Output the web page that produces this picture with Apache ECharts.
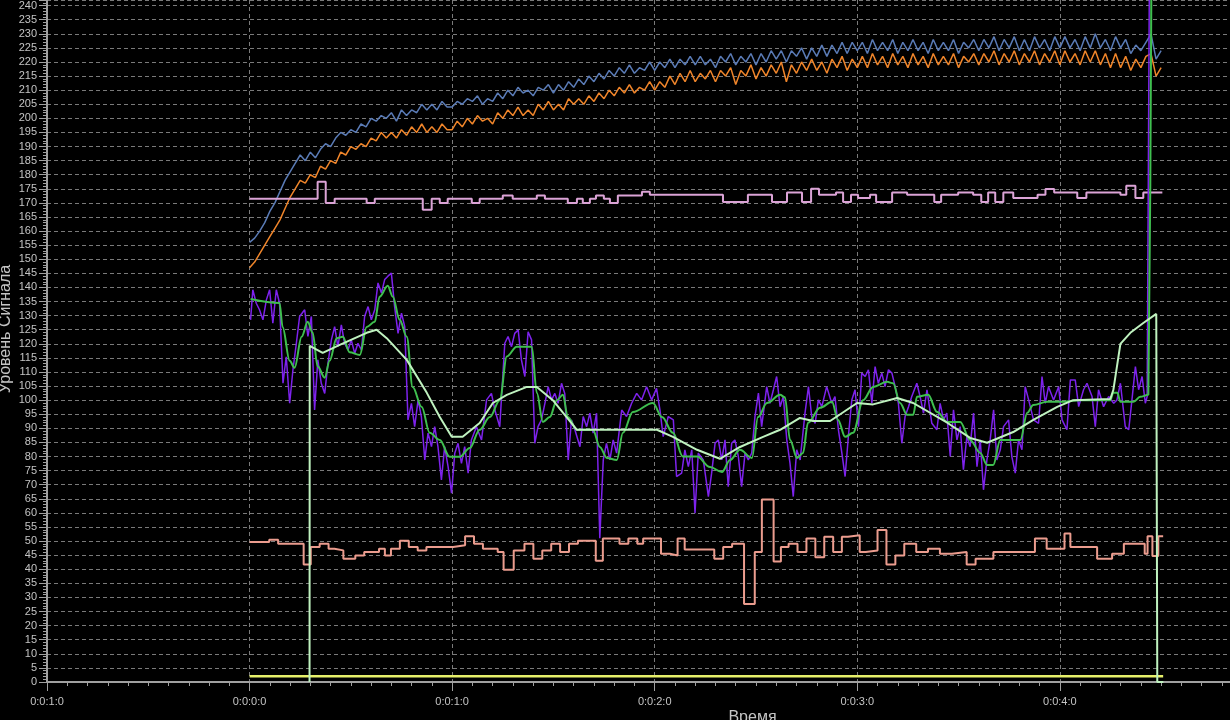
<!DOCTYPE html>
<html><head><meta charset="utf-8">
<script src="https://cdn.jsdelivr.net/npm/echarts/dist/echarts.min.js"></script>
<style>html,body{margin:0;padding:0;background:#000;}#c{width:1230px;height:720px;}</style>
</head><body><div id="c"></div><script>
// X axis ticks (time) and labels
const xTickValues = [-10, 0, 10, 20, 30, 40];
const xTickLabels = ['0:0:1:0', '0:0:0:0', '0:0:1:0', '0:0:2:0', '0:0:3:0', '0:0:4:0'];
const xAxisName = 'Время';
const yAxisName = 'Уровень Сигнала';

// Blue and orange signals sampled every 0.25 time units from 0
const sampleStep = 0.25;
const blueValues = [
156,157.5,160,163,167,170,174,178,181,184,
187,185,188,186,189,191,190,193,195,194,
196,195,198,197,200,199,201,200,202,199,
203,201,203,202,205,203,205,203,206,204,
204,206,205,207,206,208,205,207,206,209,
207,210,208,211,209,210,208,211,210,212,
209,212,210,213,211,214,212,215,213,216,
214,217,215,218,216,219,216,218,217,220,
217,220,218,221,218,221,219,222,219,222,
219,221,218,222,220,223,219,222,220,223,
219,223,220,224,221,224,220,224,222,225,
221,225,222,226,222,226,223,227,223,227,
224,227,223,228,224,227,224,228,223,227,
224,228,224,227,223,228,224,227,224,228,
223,227,225,228,224,228,225,229,224,228,
225,229,224,228,224,229,225,228,224,229,
225,229,225,228,224,229,225,230,225,228,
224,229,225,228,223,226,224,227,230,221,224];
const orangeValues = [
147,149,152,155,158,161,164,168,172,175,
178,177,180,179,183,182,185,184,188,187,
190,189,191,190,193,192,195,193,195,193,
196,194,197,195,198,195,197,195,198,196,
196,199,197,200,198,201,199,200,198,202,
200,203,201,204,201,203,201,205,203,206,
203,205,203,207,205,207,205,208,206,209,
207,210,208,211,209,212,209,211,210,213,
210,213,211,215,212,216,213,217,213,216,
214,217,213,217,215,218,212,217,215,219,
214,218,215,219,216,220,213,219,216,220,
217,221,217,220,216,221,218,222,217,221,
218,222,218,223,219,222,218,223,219,222,
218,223,219,222,218,223,219,222,219,223,
218,222,220,223,219,223,220,224,219,223,
220,224,219,223,220,224,219,223,220,224,
219,224,220,223,219,224,220,224,219,223,
218,223,218,222,217,221,218,222,223,215,218];

// Step signals: [time where level starts, level]
const pinkSteps = [[0,171.5],[3.36,177.5],[3.76,170],[4.20,171.5],[5.78,170],[6.18,171.5],[8.55,167.6],[8.99,171.5],[9.39,170],[9.78,171.5],[10.97,170],[11.36,171.5],[12.50,172.6],[12.99,171.5],[14.18,172.6],[14.58,171.5],[15.71,170],[16.16,171.5],[16.45,170],[16.80,171.5],[17.10,172.6],[17.49,171.5],[17.79,170],[18.18,172.6],[19.37,174],[19.76,172.9],[23.37,170.3],[24.60,172.9],[25.79,170.3],[26.53,173.7],[27.27,170.3],[27.72,175],[28.11,172.9],[28.95,173.7],[29.30,170.3],[29.69,172.9],[30.04,171.7],[30.63,172.9],[30.93,170.3],[31.72,173.7],[32.46,172.9],[33.80,170.3],[34.14,172.9],[34.98,173.7],[35.72,172.9],[36.12,170.3],[36.46,173.7],[36.81,170.3],[37.21,173.7],[37.70,171.7],[38.90,172.9],[39.29,174.9],[39.72,173.7],[40.86,171.7],[41.31,173.7],[42.99,172.9],[43.28,176.1],[43.73,171.7],[44.12,173.7],[45.06,173.7]];
const salmonSteps = [[0,49.7],[0.97,50.5],[1.41,49.1],[2.67,41.7],[3.02,47.9],[3.46,49.1],[3.90,47.3],[4.19,46.7],[4.63,43.7],[5.22,44.9],[5.66,46.1],[6.39,47.3],[6.68,44.9],[6.98,47.3],[7.42,50.1],[7.86,47.9],[8.30,46.7],[8.73,47.9],[10.05,48.5],[10.64,51.7],[11.08,49.1],[11.52,47.3],[12.25,46.1],[12.54,39.8],[13.04,46.7],[13.57,49.1],[14.01,43.7],[14.45,46.7],[14.89,49.1],[15.33,46.1],[15.77,49.1],[16.21,50.1],[17.09,43.0],[17.44,50.9],[18.26,49.1],[18.70,50.9],[19.14,49.1],[19.43,50.9],[20.31,45.5],[20.75,44.9],[21.13,50.9],[21.48,47.0],[22.94,43.7],[23.38,47.9],[23.82,49.1],[24.41,27.7],[24.94,46.1],[25.29,64.8],[25.87,42.8],[26.23,47.9],[26.61,49.1],[27.05,46.1],[27.49,50.9],[27.93,44.3],[28.37,51.5],[28.81,46.1],[29.24,51.5],[29.54,52.1],[30.12,46.1],[30.42,46.7],[31.00,53.9],[31.44,41.7],[31.88,44.9],[32.32,49.1],[32.91,46.1],[33.49,47.3],[34.08,45.5],[34.67,46.1],[35.40,41.7],[35.84,43.7],[36.72,46.1],[38.77,50.9],[39.35,47.3],[40.23,52.7],[40.52,47.9],[41.84,43.7],[42.58,45.5],[43.16,49.1],[44.19,45.5],[44.33,51.7],[44.57,44.7],[44.86,51.7],[45.1,51.7]];
const yellowLine = [[0,2],[45.1,2]];

// Purple raw signal: [time, level]
const purplePoints = [[0.05,128.5],[0.16,139.2],[0.33,134.4],[0.49,132.1],[0.66,128.5],[0.83,135.6],[0.99,139.2],[1.15,127.3],[1.32,139.2],[1.48,134.4],[1.65,106.0],[1.81,115.4],[1.98,98.9],[2.14,110.7],[2.31,120.2],[2.47,129.7],[2.72,132.1],[2.88,122.6],[3.05,129.7],[3.21,96.5],[3.37,114.3],[3.54,106.0],[3.71,102.4],[3.87,113.1],[4.04,121.4],[4.20,126.1],[4.36,119.0],[4.53,126.7],[4.69,120.2],[4.86,117.8],[5.02,121.4],[5.19,116.6],[5.35,120.2],[5.52,117.8],[5.68,129.7],[5.85,133.2],[6.01,128.5],[6.18,132.1],[6.34,141.6],[6.51,138.0],[6.67,142.8],[6.83,144.0],[7.00,145.1],[7.16,133.2],[7.33,123.7],[7.50,130.9],[7.66,126.1],[7.82,93.0],[7.99,98.9],[8.15,90.6],[8.32,100.1],[8.48,94.2],[8.65,78.8],[8.81,88.3],[8.98,83.5],[9.14,90.6],[9.30,83.5],[9.47,71.7],[9.63,83.5],[9.80,76.4],[9.97,67.0],[10.13,81.2],[10.29,84.7],[10.46,77.6],[10.62,83.5],[10.79,74.1],[10.95,85.9],[11.20,90.6],[11.45,85.9],[11.70,100.1],[11.94,102.4],[12.11,96.5],[12.35,90.6],[12.60,120.2],[12.76,122.6],[12.93,119.0],[13.09,123.7],[13.26,124.9],[13.42,114.3],[13.59,108.4],[13.75,124.3],[13.92,121.4],[14.08,84.7],[14.24,90.6],[14.41,93.0],[14.58,98.9],[14.74,104.8],[14.91,100.1],[15.07,102.4],[15.23,98.9],[15.40,106.0],[15.56,102.4],[15.73,78.8],[15.89,93.0],[16.06,89.5],[16.31,83.5],[16.47,94.2],[16.64,90.6],[16.80,95.4],[16.96,88.3],[17.13,95.4],[17.29,51.0],[17.46,78.8],[17.62,84.7],[17.79,78.8],[17.95,85.9],[18.12,81.2],[18.37,96.5],[18.61,94.2],[18.86,98.9],[19.11,102.4],[19.35,100.1],[19.60,104.8],[19.85,100.1],[20.09,104.2],[20.26,96.5],[20.42,87.1],[20.67,94.2],[20.92,93.0],[21.08,72.9],[21.33,74.1],[21.49,82.4],[21.66,76.4],[21.83,82.4],[21.99,59.9],[22.15,81.2],[22.40,78.8],[22.65,65.8],[22.81,74.1],[22.98,84.7],[23.14,85.9],[23.31,78.8],[23.47,85.9],[23.63,69.3],[23.80,84.7],[23.96,85.9],[24.13,80.0],[24.29,69.3],[24.46,81.2],[24.62,78.8],[24.79,81.2],[24.95,94.2],[25.12,102.5],[25.28,90.6],[25.53,104.8],[25.69,98.9],[25.86,103.7],[26.02,108.4],[26.19,97.7],[26.35,101.3],[26.52,85.9],[26.68,77.6],[26.84,65.8],[27.01,82.4],[27.18,78.8],[27.42,95.4],[27.59,104.8],[27.75,94.2],[27.92,91.8],[28.08,100.1],[28.25,97.7],[28.49,104.8],[28.74,98.9],[28.90,101.3],[29.07,89.5],[29.24,81.2],[29.40,72.9],[29.56,87.1],[29.73,100.1],[29.89,103.7],[30.06,90.6],[30.22,109.6],[30.39,108.4],[30.55,110.8],[30.72,98.9],[30.88,111.9],[31.04,106.0],[31.21,109.6],[31.37,104.8],[31.54,110.8],[31.71,109.6],[31.87,104.8],[32.03,98.9],[32.20,84.7],[32.36,94.2],[32.53,97.7],[32.69,101.3],[32.94,106.0],[33.10,101.3],[33.27,95.4],[33.44,103.7],[33.68,91.8],[33.93,89.5],[34.09,98.9],[34.26,93.0],[34.42,95.4],[34.59,80.0],[34.75,96.6],[34.92,85.9],[35.08,90.6],[35.24,75.3],[35.41,87.1],[35.57,83.5],[35.74,95.4],[35.91,76.4],[36.07,85.9],[36.23,68.2],[36.40,78.8],[36.56,85.9],[36.73,96.6],[36.89,78.8],[37.06,82.4],[37.22,90.6],[37.47,93.0],[37.63,80.0],[37.80,74.1],[37.96,85.9],[38.13,82.4],[38.29,104.8],[38.46,100.1],[38.70,93.0],[38.95,91.8],[39.12,108.4],[39.28,98.9],[39.44,104.8],[39.69,100.1],[39.94,104.8],[40.11,93.0],[40.35,89.5],[40.52,107.2],[40.76,107.2],[40.93,97.7],[41.17,103.7],[41.34,106.0],[41.59,101.3],[41.75,90.6],[41.91,103.7],[42.16,97.7],[42.41,101.3],[42.66,98.9],[42.82,100.1],[42.99,106.0],[43.23,90.6],[43.40,89.5],[43.56,100.1],[43.73,111.9],[43.89,103.7],[44.06,108.4],[44.22,98.9],[44.31,101.3],[44.42,250]];

// Green filtered signal
const greenPoints = [[0.05,135.9],[1.48,134.5],[1.63,126],[1.98,114],[2.22,111.5],[2.57,122.5],[2.87,127.8],[3.11,124],[3.36,112],[3.71,108],[3.95,114],[4.30,122],[4.60,122.5],[4.94,117],[5.44,116],[5.78,126],[6.18,127.8],[6.42,136.7],[6.82,140.6],[7.07,136.7],[7.41,128.5],[7.76,122.5],[8.05,104.7],[8.50,97.6],[8.89,88.4],[9.39,85.9],[9.88,79.9],[10.38,79.9],[10.87,83],[11.36,89.5],[11.86,94],[12.35,100],[12.70,115.5],[13.19,119],[13.93,119],[14.18,102.6],[14.48,92.3],[14.82,94],[15.17,100],[15.47,101.9],[15.71,94],[16.16,89.5],[16.95,89.5],[17.29,83.4],[17.64,79.5],[18.13,78.8],[18.43,88.4],[18.92,95.8],[19.91,99],[20.36,94],[20.90,88.4],[21.39,80],[22.09,80],[22.73,76.3],[23.32,74.5],[23.72,78.8],[24.21,82.4],[24.80,79.5],[25.10,94],[25.54,99],[26.19,101.9],[26.43,101],[26.68,85.9],[27.03,79.5],[27.32,81.3],[27.57,92],[28.16,97.3],[28.75,99.4],[29.05,93],[29.40,87],[29.79,88.4],[30.29,100],[30.78,104.7],[31.47,106.5],[31.77,106],[32.11,99],[32.46,94.8],[32.76,94.8],[32.95,101.2],[33.50,101.9],[33.94,95.8],[34.44,92.3],[35.08,92.3],[35.57,85.9],[36.07,81.3],[36.41,77],[36.71,77],[37.06,85.9],[38.05,85.9],[38.39,95.5],[38.69,98.3],[39.38,99.4],[40.02,99.4],[41.01,100],[42.49,100],[42.64,102.6],[42.84,102.6],[42.99,99.4],[43.63,99.4],[43.97,101.2],[44.37,101.9],[44.52,250]];

// Light green slow average
const lightGreenPoints = [[2.96,0],[2.97,119.3],[3.61,116.8],[4.45,119.6],[5.78,123.9],[6.27,125],[6.77,122],[7.76,114.3],[8.75,102.6],[9.39,94],[9.98,87],[10.52,87],[11.36,91.9],[12.01,99],[12.70,101.9],[13.69,104.7],[14.18,104.7],[14.97,100],[16.16,89.5],[20.11,89.5],[20.90,87],[22.09,82.4],[23.22,79.2],[24.21,83.4],[25.35,87],[26.19,89.5],[27.17,93.7],[27.82,92.6],[28.66,92.6],[29.99,99],[30.78,98.5],[31.97,100.8],[32.76,99],[34.44,92],[35.57,86.6],[36.41,84.9],[37.70,88.7],[38.69,93],[39.87,97.6],[40.66,100],[42.49,100.4],[42.64,103.6],[42.99,120],[43.48,123.9],[44.12,127.4],[44.76,130.6],[44.81,0],[45.11,0]];

const withX = (vals, step) => vals.map((v, i) => [i * step, v]);

function line(name, data, color, width, extra) {
  return Object.assign({
    name, type: 'line', data, showSymbol: false, symbol: 'none',
    lineStyle: { color, width }, itemStyle: { color },
    clip: true, animation: false
  }, extra || {});
}

const gridColor = '#7a7a7a';
const axisColor = '#a0a0a0';
const labelColor = '#c4c4c4';

const chart = echarts.init(document.getElementById('c'), null, { renderer: 'canvas' });
chart.setOption({
  backgroundColor: '#000',
  animation: false,
  grid: { left: 47, right: 0, top: 0, bottom: 38, containLabel: false, outerBoundsMode: 'none' },
  xAxis: {
    type: 'value', min: -10, max: 48.4, interval: 10,
    name: xAxisName, nameLocation: 'middle', nameGap: 28, nameMoveOverlap: false,
    nameTextStyle: { color: labelColor, fontSize: 16, fontFamily: 'Liberation Sans', padding: [0, 0, 0, 228] },
    axisLine: { onZero: false, lineStyle: { color: axisColor, width: 2 } },
    axisTick: { show: true, length: 9, lineStyle: { color: axisColor, width: 1 } },
    minorTick: { show: true, splitNumber: 10, length: 4, lineStyle: { color: axisColor, width: 1 } },
    axisLabel: {
      color: labelColor, fontSize: 11, fontFamily: 'Liberation Sans', margin: 14, showMaxLabel: false,
      formatter: v => { const i = xTickValues.indexOf(Math.round(v * 1000) / 1000); return i >= 0 ? xTickLabels[i] : ''; }
    },
    splitLine: { show: true, lineStyle: { color: gridColor, width: 1, type: [4, 3] } }
  },
  yAxis: {
    type: 'value', min: 0, max: 242, interval: 5,
    name: yAxisName, nameLocation: 'middle', nameGap: 33, nameMoveOverlap: false,
    nameTextStyle: { color: labelColor, fontSize: 16, fontFamily: 'Liberation Sans', padding: [0, 0, 0, 24] },
    axisLine: { show: true, onZero: false, lineStyle: { color: axisColor, width: 2 } },
    axisTick: { show: true, length: 8, lineStyle: { color: axisColor, width: 1 } },
    minorTick: { show: true, splitNumber: 5, length: 4, lineStyle: { color: axisColor, width: 1 } },
    axisLabel: {
      color: labelColor, fontSize: 11, fontFamily: 'Liberation Sans', margin: 10, showMaxLabel: false,
      formatter: v => (Math.round(v) % 5 === 0 && Math.abs(v - Math.round(v)) < 1e-6) ? String(Math.round(v)) : ''
    },
    splitLine: { show: true, lineStyle: { color: gridColor, width: 1, type: [4, 3] } }
  },
  series: [
    line('Синий', withX(blueValues, sampleStep), '#5a7bb6', 1.5),
    line('Оранжевый', withX(orangeValues, sampleStep), '#f0852a', 1.5),
    line('Розовый', pinkSteps, '#dba3d6', 2, { step: 'end' }),
    line('Лососевый', salmonSteps, '#eb9c8e', 2, { step: 'end' }),
    line('Жёлтый', yellowLine, '#e6f06a', 2.5),
    line('Фиолетовый', purplePoints, '#7d22ec', 1.5),
    line('Зелёный', greenPoints, '#3fbf4f', 2, { smooth: 0.35, smoothMonotone: 'x' }),
    line('Светло-зелёный', lightGreenPoints, '#bff2bf', 2)
  ]
});
</script></body></html>
